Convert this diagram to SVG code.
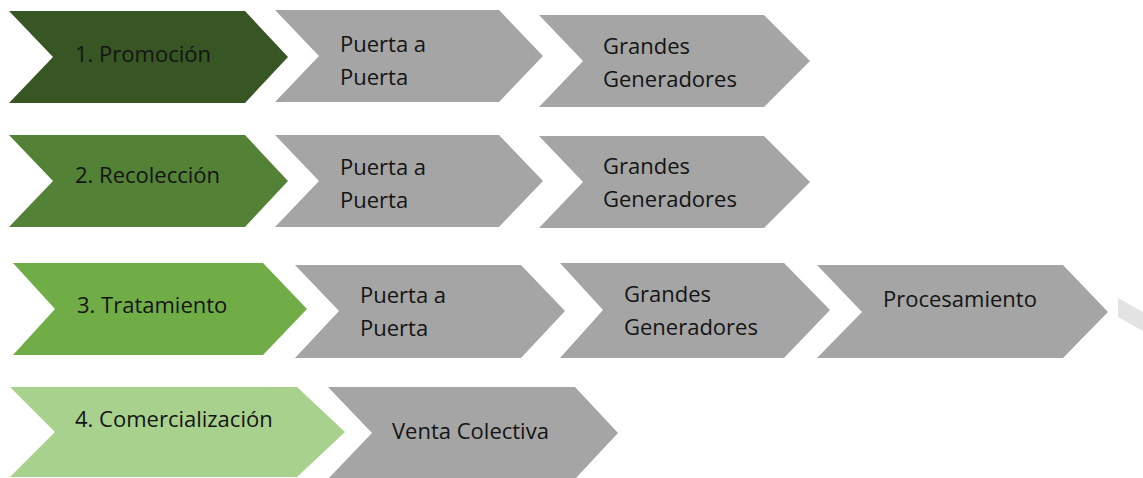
<svg xmlns="http://www.w3.org/2000/svg" width="1143" height="478" viewBox="0 0 1143 478">
<style>
text{font-family:"Open Sans","Liberation Sans",sans-serif;font-size:22px;fill:#141414}
.g{fill:#a5a5a5}
.g1{fill:#375623}
.g2{fill:#538135}
.g3{fill:#70ad47}
.g4{fill:#a9d18e}
</style>
<rect width="1143" height="478" fill="#ffffff"/>
<g id="promocion">
<polygon class="g1" points="9,11 245,11 288,57 245,103 9,103 53,57"/>
<text x="75" y="62">1. Promoción</text>
</g>
<g id="promocion-puerta">
<polygon class="g" points="275,10 499,10 543,56 499,102 275,102 319,56"/>
<text x="340" y="52">Puerta a</text>
<text x="340" y="85">Puerta</text>
</g>
<g id="promocion-grandes">
<polygon class="g" points="539,15 764,15 810,61 764,107 539,107 583,61"/>
<text x="603" y="54">Grandes</text>
<text x="603" y="87">Generadores</text>
</g>
<g id="recoleccion">
<polygon class="g2" points="9,135 245,135 288,181 245,227 9,227 53,181"/>
<text x="75" y="183">2. Recolección</text>
</g>
<g id="recoleccion-puerta">
<polygon class="g" points="275,135 499,135 543,181 499,227 275,227 319,181"/>
<text x="340" y="175">Puerta a</text>
<text x="340" y="208">Puerta</text>
</g>
<g id="recoleccion-grandes">
<polygon class="g" points="539,136 764,136 810,182 764,228 539,228 583,182"/>
<text x="603" y="174">Grandes</text>
<text x="603" y="207">Generadores</text>
</g>
<g id="tratamiento">
<polygon class="g3" points="13,263 263,263 307,309 263,355 13,355 55,309"/>
<text x="77" y="313">3. Tratamiento</text>
</g>
<g id="tratamiento-puerta">
<polygon class="g" points="295,265 521,265 565,311 521,358 295,358 339,311"/>
<text x="360" y="303">Puerta a</text>
<text x="360" y="336">Puerta</text>
</g>
<g id="tratamiento-grandes">
<polygon class="g" points="560,263 784,263 830,310 784,358 560,358 603,310"/>
<text x="624" y="302">Grandes</text>
<text x="624" y="335">Generadores</text>
</g>
<g id="tratamiento-procesamiento">
<polygon class="g" points="817,265 1063,265 1108,312 1063,358 817,358 862,312"/>
<text x="883" y="307">Procesamiento</text>
</g>
<polygon fill="#e3e3e3" points="1118,298 1143,312 1143,331 1118,317"/>
<g id="comercializacion">
<polygon class="g4" points="10,387 297,387 345,432 297,477 10,477 55,432"/>
<text x="75" y="427">4. Comercialización</text>
</g>
<g id="comercializacion-venta">
<polygon class="g" points="328,387 575,387 618,433 575,479 328,479 372,433"/>
<text x="392" y="439">Venta Colectiva</text>
</g>
<g id="connectors"></g>
</svg>
